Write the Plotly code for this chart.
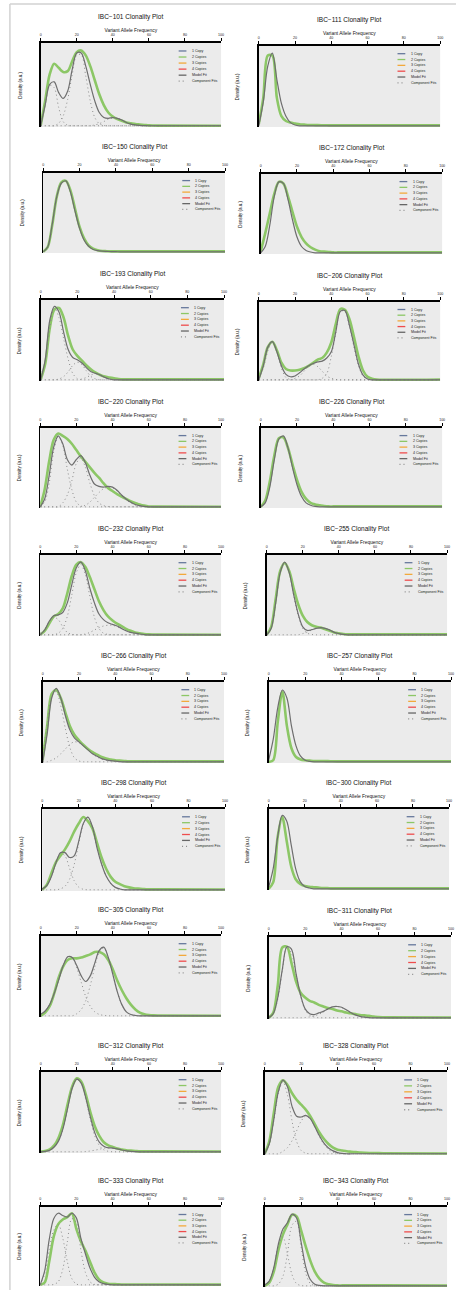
import plotly.graph_objects as go

W, H = 459, 1290

# Variant allele frequency grid (%) shared by every panel
VAF = [0, 2.5, 5, 7.5, 10, 12.5, 15, 17.5, 20, 22.5, 25, 27.5, 30, 32.5, 35,
       37.5, 40, 42.5, 45, 47.5, 50, 52.5, 55, 57.5, 60, 62.5, 65, 100]
VAF_TICKS = [0, 20, 40, 60, 80, 100]
LEGEND_LABELS = ["1 Copy", "2 Copies", "3 Copies", "4 Copies", "Model Fit", "Component Fits"]

# Density values (percent of panel height)
ibc101_two_copies = [0, 30, 62, 75, 70, 65, 66, 78, 89, 91, 85, 72, 55, 38, 25, 16, 11, 8, 6, 4, 3, 2, 1.5, 1, 0.5, 0.3, 0.2, 0]
ibc101_model_fit = [0, 25, 50, 53, 40, 33, 42, 68, 88, 88, 72, 50, 30, 16, 10, 9, 10, 9, 7, 4, 2, 1, 0.5, 0.2, 0, 0, 0, 0]
ibc101_comp1 = [3, 26, 49, 46, 22, 5, 0.5, 0, 0, 0, 0, 0, 0, 0, 0, 0, 0, 0, 0, 0, 0, 0, 0, 0, 0, 0, 0, 0]
ibc101_comp2 = [0, 0, 0, 0, 3, 12, 32, 62, 85, 86, 60, 30, 10, 2.5, 0.4, 0, 0, 0, 0, 0, 0, 0, 0, 0, 0, 0, 0, 0]
ibc101_comp3 = [0, 0, 0, 0, 0, 0, 0, 0, 0, 0, 0, 0, 1, 2.5, 5, 8, 9, 9, 7, 4, 2, 1, 0.3, 0, 0, 0, 0, 0]

ibc111_two_copies = [2, 35, 88, 88, 35, 12, 6, 4, 3, 2, 1.5, 1, 1, 0.8, 0.7, 0.6, 0.5, 0.5, 0.5, 0.5, 0.5, 0.5, 0.5, 0.5, 0.5, 0.5, 0.5, 0.5]
ibc111_model_fit = [0, 30, 75, 91, 58, 28, 12, 4, 1, 0, 0, 0, 0, 0, 0, 0, 0, 0, 0, 0, 0, 0, 0, 0, 0, 0, 0, 0]

ibc150_two_copies = [0, 6, 34, 70, 88, 90, 78, 55, 32, 17, 8, 4, 2, 1, 0.8, 0.6, 0.5, 0.5, 0.5, 0.5, 0.5, 0.5, 0.5, 0.5, 0.5, 0.5, 0.5, 0.5]
ibc150_model_fit = [0, 6, 35, 70, 87, 90, 76, 52, 30, 15, 7, 3, 1.5, 0.8, 0.5, 0.3, 0.2, 0, 0, 0, 0, 0, 0, 0, 0, 0, 0, 0]

ibc172_two_copies = [2, 25, 50, 75, 90, 88, 72, 52, 33, 20, 12, 7, 4, 2, 1.5, 1, 0.5, 0.5, 0.5, 0.5, 0.5, 0.5, 0.5, 0.5, 0.5, 0.5, 0.5, 0.5]
ibc172_model_fit = [0, 8, 35, 72, 90, 88, 68, 42, 20, 8, 3, 1, 0, 0, 0, 0, 0, 0, 0, 0, 0, 0, 0, 0, 0, 0, 0, 0]

ibc193_two_copies = [0, 20, 65, 88, 90, 78, 55, 38, 30, 24, 18, 13, 9, 6, 4, 3, 2, 1, 0.5, 0.5, 0.5, 0.5, 0.5, 0.5, 0.5, 0.5, 0.5, 0.5]
ibc193_model_fit = [0, 25, 75, 92, 85, 60, 38, 28, 25, 21, 15, 10, 8, 6, 3, 1, 0, 0, 0, 0, 0, 0, 0, 0, 0, 0, 0, 0]
ibc193_comp1 = [5, 24, 65, 90, 78, 52, 26, 8, 1.5, 0, 0, 0, 0, 0, 0, 0, 0, 0, 0, 0, 0, 0, 0, 0, 0, 0, 0, 0]
ibc193_comp2 = [0, 0, 0, 0, 1, 4, 10, 18, 22, 19, 11, 4, 1, 0, 0, 0, 0, 0, 0, 0, 0, 0, 0, 0, 0, 0, 0, 0]
ibc193_comp3 = [0, 0, 0, 0, 0, 0, 0, 0, 0, 1, 3, 6, 8, 6, 3, 1, 0, 0, 0, 0, 0, 0, 0, 0, 0, 0, 0, 0]

ibc206_two_copies = [2, 20, 42, 49, 38, 22, 14, 12, 12, 13, 15, 18, 22, 26, 28, 35, 48, 72, 91, 90, 78, 55, 30, 12, 4, 1.5, 0.5, 0.5]
ibc206_model_fit = [0, 18, 42, 49, 36, 18, 7, 4, 5, 9, 14, 18, 21, 23, 24, 28, 36, 62, 88, 89, 70, 45, 20, 6, 1, 0, 0, 0]
ibc206_comp1 = [3, 15, 37, 49, 36, 15, 3, 0.4, 0, 0, 0, 0, 0, 0, 0, 0, 0, 0, 0, 0, 0, 0, 0, 0, 0, 0, 0, 0]
ibc206_comp2 = [0, 0, 0, 0, 0, 0, 0, 0, 2, 5, 11, 17, 20, 17, 11, 5, 2, 0.5, 0, 0, 0, 0, 0, 0, 0, 0, 0, 0]
ibc206_comp3 = [0, 0, 0, 0, 0, 0, 0, 0, 0, 0, 0, 0, 0, 0, 2, 8, 30, 60, 88, 88, 68, 42, 18, 5, 1, 0, 0, 0]

ibc220_two_copies = [0, 22, 58, 85, 93, 90, 86, 80, 72, 64, 57, 50, 43, 37, 30, 24, 20, 16, 13, 10, 7, 5, 3, 1.5, 0.5, 0.3, 0.2, 0]
ibc220_model_fit = [0, 10, 40, 76, 90, 80, 60, 53, 60, 65, 56, 40, 29, 26, 25, 26, 25, 21, 15, 10, 6, 3, 1.5, 0.5, 0, 0, 0, 0]
ibc220_comp1 = [1, 6, 30, 70, 89, 78, 48, 22, 6, 1, 0, 0, 0, 0, 0, 0, 0, 0, 0, 0, 0, 0, 0, 0, 0, 0, 0, 0]
ibc220_comp2 = [0, 0, 0, 0, 0, 5, 15, 33, 55, 62, 50, 30, 14, 5, 1.5, 0.3, 0, 0, 0, 0, 0, 0, 0, 0, 0, 0, 0, 0]
ibc220_comp3 = [0, 0, 0, 0, 0, 0, 0, 0, 0, 0, 2, 6, 12, 18, 23, 25, 24, 20, 14, 9, 5, 2.5, 1, 0.3, 0, 0, 0, 0]

ibc226_two_copies = [0, 8, 32, 65, 87, 88, 75, 54, 34, 19, 10, 5, 3, 2, 1, 0.5, 0.5, 0.5, 0.5, 0.5, 0.5, 0.5, 0.5, 0.5, 0.5, 0.5, 0.5, 0.5]
ibc226_model_fit = [0, 5, 25, 60, 86, 90, 75, 50, 28, 13, 5, 2, 0.5, 0, 0, 0, 0, 0, 0, 0, 0, 0, 0, 0, 0, 0, 0, 0]

ibc232_two_copies = [0, 5, 14, 23, 26, 33, 52, 74, 88, 91, 85, 72, 57, 42, 31, 23, 18, 14, 11, 7.5, 5, 3, 2, 1, 0.5, 0.3, 0.2, 0]
ibc232_model_fit = [0, 6, 17, 24, 25, 28, 40, 63, 84, 91, 80, 58, 40, 26, 19, 15, 13, 11, 8, 5, 3, 2, 1, 0.3, 0, 0, 0, 0]
ibc232_comp1 = [2, 7, 16, 22, 19, 10, 3, 0.5, 0, 0, 0, 0, 0, 0, 0, 0, 0, 0, 0, 0, 0, 0, 0, 0, 0, 0, 0, 0]
ibc232_comp2 = [0, 0, 0, 0, 2, 8, 23, 50, 78, 88, 75, 48, 22, 8, 2, 0.4, 0, 0, 0, 0, 0, 0, 0, 0, 0, 0, 0, 0]
ibc232_comp3 = [0, 0, 0, 0, 0, 0, 0, 0, 0, 0, 1, 3, 6, 9, 11, 12, 12, 10, 7.5, 5, 3, 1.5, 0.7, 0.2, 0, 0, 0, 0]

ibc255_two_copies = [0, 10, 45, 80, 90, 80, 58, 38, 24, 16, 12, 10, 9, 7, 5, 3, 2, 1, 0.5, 0.5, 0.5, 0.5, 0.5, 0.5, 0.5, 0.5, 0.5, 0.5]
ibc255_model_fit = [0, 8, 40, 78, 91, 78, 50, 26, 10, 5.5, 6.4, 8, 9, 8, 6, 3, 1.5, 0.5, 0, 0, 0, 0, 0, 0, 0, 0, 0, 0]
ibc255_comp1 = [1, 8, 40, 78, 91, 78, 50, 24, 8, 2, 0.4, 0, 0, 0, 0, 0, 0, 0, 0, 0, 0, 0, 0, 0, 0, 0, 0, 0]
ibc255_comp2 = [0, 0, 0, 0, 0, 0, 0, 0, 1.5, 3.5, 6, 8, 9, 8, 6, 3, 1.5, 0.5, 0, 0, 0, 0, 0, 0, 0, 0, 0, 0]

ibc257_two_copies = [0, 2, 50, 88, 45, 17, 6, 3, 2, 1.5, 1, 1, 1, 0.8, 0.6, 0.5, 0.5, 0.5, 0.5, 0.5, 0.5, 0.5, 0.5, 0.5, 0.5, 0.5, 0.5, 0.5]
ibc257_model_fit = [2, 28, 68, 90, 80, 45, 20, 7, 2, 0.5, 0, 0, 0, 0, 0, 0, 0, 0, 0, 0, 0, 0, 0, 0, 0, 0, 0, 0]

ibc266_two_copies = [2, 45, 85, 90, 80, 62, 45, 34, 27, 21, 16, 12, 9, 6, 4, 3, 2, 1.5, 1, 0.5, 0.5, 0.5, 0.5, 0.5, 0.5, 0.5, 0.5, 0.5]
ibc266_model_fit = [0, 35, 80, 92, 80, 58, 40, 30, 25, 20, 15, 10, 7, 4, 2.5, 1.5, 0.8, 0.3, 0, 0, 0, 0, 0, 0, 0, 0, 0, 0]
ibc266_comp1 = [5, 48, 82, 88, 70, 42, 18, 5, 1, 0, 0, 0, 0, 0, 0, 0, 0, 0, 0, 0, 0, 0, 0, 0, 0, 0, 0, 0]
ibc266_comp2 = [0, 0, 2, 5, 10, 16, 22, 25, 24, 20, 15, 10, 6, 3.5, 2, 1, 0.5, 0, 0, 0, 0, 0, 0, 0, 0, 0, 0, 0]

ibc298_two_copies = [0, 6, 20, 34, 42, 50, 60, 72, 82, 90, 85, 76, 58, 40, 26, 16, 10, 7, 4.5, 3, 2, 1.5, 1, 0.5, 0.5, 0.5, 0.5, 0.3]
ibc298_model_fit = [1, 5, 16, 33, 46, 46, 40, 42, 60, 82, 90, 78, 52, 32, 17, 8, 3, 1, 0, 0, 0, 0, 0, 0, 0, 0, 0, 0]
ibc298_comp1 = [1.2, 5.3, 16, 33, 45, 42, 26.5, 11.3, 3.3, 0.6, 0, 0, 0, 0, 0, 0, 0, 0, 0, 0, 0, 0, 0, 0, 0, 0, 0, 0]
ibc298_comp2 = [0, 0, 0, 0, 1.1, 4.4, 13, 31, 57, 81, 90, 78, 52, 32, 17, 8, 3, 1, 0, 0, 0, 0, 0, 0, 0, 0, 0, 0]

ibc300_two_copies = [0, 8, 65, 90, 60, 28, 12, 6, 3.5, 2.5, 2, 1.5, 1, 1, 0.5, 0.5, 0.5, 0.5, 0.5, 0.5, 0.5, 0.5, 0.5, 0.5, 0.5, 0.5, 0.5, 0.5]
ibc300_model_fit = [2, 25, 65, 92, 85, 55, 25, 9, 3, 1, 0, 0, 0, 0, 0, 0, 0, 0, 0, 0, 0, 0, 0, 0, 0, 0, 0, 0]

ibc305_two_copies = [0, 4, 12, 28, 48, 62, 70, 72, 72, 73, 75, 77, 80, 80, 77, 70, 58, 44, 32, 22, 14, 8, 4, 2, 1, 0.5, 0.3, 0]
ibc305_model_fit = [2, 6, 14, 28, 45, 63, 74, 73, 63, 50, 43, 50, 66, 82, 86, 73, 52, 30, 14, 5, 1.6, 0.4, 0, 0, 0, 0, 0, 0]
ibc305_comp1 = [2, 6, 14, 28, 45, 63, 74, 73, 60, 42, 24, 12, 5, 1.7, 0.5, 0, 0, 0, 0, 0, 0, 0, 0, 0, 0, 0, 0, 0]
ibc305_comp2 = [0, 0, 0, 0, 0, 0, 0, 0, 2.6, 7.9, 19, 38, 61, 80, 85, 73, 52, 30, 14, 5, 1.6, 0.4, 0, 0, 0, 0, 0, 0]

ibc311_two_copies = [0, 6, 40, 87, 88, 68, 45, 31, 25, 21, 19, 16, 14, 12, 11, 9, 8, 6.5, 5.5, 4.5, 3.5, 3, 2.5, 1.5, 1, 0.7, 0.5, 0.3]
ibc311_model_fit = [0, 5, 25, 60, 88, 85, 55, 28, 11, 5, 4, 6, 8, 11, 13.5, 14, 13, 10, 6.5, 3.6, 1.8, 0.8, 0.3, 0, 0, 0, 0, 0]
ibc311_comp1 = [1, 5, 23, 58, 88, 80, 54, 27, 10, 3, 0.8, 0, 0, 0, 0, 0, 0, 0, 0, 0, 0, 0, 0, 0, 0, 0, 0, 0]
ibc311_comp2 = [0, 0, 0, 0, 0, 0, 0, 0, 0.3, 1, 2.2, 4.3, 7, 10.8, 13.5, 14, 12.7, 9.8, 6.5, 3.6, 1.8, 0.8, 0.3, 0, 0, 0, 0, 0]

ibc312_two_copies = [0, 1, 3, 8, 18, 35, 60, 82, 92, 88, 72, 50, 32, 20, 12, 8, 6, 4, 3, 2, 1.5, 1, 0.5, 0.5, 0.5, 0.5, 0.5, 0.3]
ibc312_model_fit = [0, 0.5, 2, 6, 14, 30, 55, 80, 91, 86, 68, 44, 24, 12, 7, 5, 4.7, 3.6, 2.3, 1.2, 0.5, 0.2, 0, 0, 0, 0, 0, 0]
ibc312_comp1 = [0, 0, 2, 6, 14, 30, 55, 80, 91, 85, 66, 41, 20, 8, 2.5, 0.6, 0, 0, 0, 0, 0, 0, 0, 0, 0, 0, 0, 0]
ibc312_comp2 = [0, 0, 0, 0, 0, 0, 0, 0, 0, 0, 0.3, 1, 2, 3.2, 4.5, 5, 4.7, 3.6, 2.3, 1.2, 0.5, 0.2, 0, 0, 0, 0, 0, 0]

ibc328_two_copies = [0, 15, 50, 82, 90, 84, 74, 66, 60, 54, 46, 36, 26, 18, 12, 7.5, 5, 4, 3, 2.5, 2, 1.5, 1.2, 1, 1, 0.8, 0.7, 0.3]
ibc328_model_fit = [0, 12, 42, 76, 90, 82, 58, 46, 45, 47, 43, 33, 22, 13, 7, 3.5, 1.5, 0.5, 0, 0, 0, 0, 0, 0, 0, 0, 0, 0]
ibc328_comp1 = [2, 12, 40, 74, 88, 72, 40, 15, 4, 0.7, 0, 0, 0, 0, 0, 0, 0, 0, 0, 0, 0, 0, 0, 0, 0, 0, 0, 0]
ibc328_comp2 = [0, 0, 0, 0, 3, 7.5, 16, 28, 40, 46, 43, 33, 21, 11.6, 5.3, 2, 0.7, 0.2, 0, 0, 0, 0, 0, 0, 0, 0, 0, 0]

ibc333_two_copies = [0, 3, 30, 62, 78, 84, 87, 92, 72, 56, 44, 30, 16, 7, 3, 1.5, 1, 0.8, 0.5, 0.5, 0.5, 0.5, 0.5, 0.5, 0.5, 0.5, 0.5, 0.3]
ibc333_model_fit = [0, 18, 58, 85, 92, 89, 87, 92, 86, 60, 40, 22, 10, 4, 1.5, 0.5, 0, 0, 0, 0, 0, 0, 0, 0, 0, 0, 0, 0]
ibc333_comp1 = [0.6, 14, 45, 70, 78, 60, 30, 8, 1, 0, 0, 0, 0, 0, 0, 0, 0, 0, 0, 0, 0, 0, 0, 0, 0, 0, 0, 0]
ibc333_comp2 = [0, 0, 0, 0.5, 4, 20, 55, 85, 80, 45, 16, 4, 0.6, 0, 0, 0, 0, 0, 0, 0, 0, 0, 0, 0, 0, 0, 0, 0]

ibc343_two_copies = [0, 4, 18, 45, 65, 78, 90, 88, 70, 50, 32, 18, 9, 4, 2, 1, 0.5, 0.5, 0.5, 0.5, 0.5, 0.5, 0.5, 0.5, 0.5, 0.5, 0.5, 0.3]
ibc343_model_fit = [1, 6, 23, 53, 72, 80, 91, 86, 55, 24, 8, 2, 0.5, 0, 0, 0, 0, 0, 0, 0, 0, 0, 0, 0, 0, 0, 0, 0]
ibc343_comp1 = [0.8, 6, 23, 51, 62, 40, 14, 2.7, 0.3, 0, 0, 0, 0, 0, 0, 0, 0, 0, 0, 0, 0, 0, 0, 0, 0, 0, 0, 0]
ibc343_comp2 = [0, 0, 0, 2.2, 12, 41, 77, 82, 49, 16, 3, 0.3, 0, 0, 0, 0, 0, 0, 0, 0, 0, 0, 0, 0, 0, 0, 0, 0]

# Panels in reading order (left, right per row)
PANELS = [
    ("IBC−101", ibc101_two_copies, ibc101_model_fit, [ibc101_comp1, ibc101_comp2, ibc101_comp3]),
    ("IBC−111", ibc111_two_copies, ibc111_model_fit, []),
    ("IBC−150", ibc150_two_copies, ibc150_model_fit, []),
    ("IBC−172", ibc172_two_copies, ibc172_model_fit, []),
    ("IBC−193", ibc193_two_copies, ibc193_model_fit, [ibc193_comp1, ibc193_comp2, ibc193_comp3]),
    ("IBC−206", ibc206_two_copies, ibc206_model_fit, [ibc206_comp1, ibc206_comp2, ibc206_comp3]),
    ("IBC−220", ibc220_two_copies, ibc220_model_fit, [ibc220_comp1, ibc220_comp2, ibc220_comp3]),
    ("IBC−226", ibc226_two_copies, ibc226_model_fit, []),
    ("IBC−232", ibc232_two_copies, ibc232_model_fit, [ibc232_comp1, ibc232_comp2, ibc232_comp3]),
    ("IBC−255", ibc255_two_copies, ibc255_model_fit, [ibc255_comp1, ibc255_comp2]),
    ("IBC−266", ibc266_two_copies, ibc266_model_fit, [ibc266_comp1, ibc266_comp2]),
    ("IBC−257", ibc257_two_copies, ibc257_model_fit, []),
    ("IBC−298", ibc298_two_copies, ibc298_model_fit, [ibc298_comp1, ibc298_comp2]),
    ("IBC−300", ibc300_two_copies, ibc300_model_fit, []),
    ("IBC−305", ibc305_two_copies, ibc305_model_fit, [ibc305_comp1, ibc305_comp2]),
    ("IBC−311", ibc311_two_copies, ibc311_model_fit, [ibc311_comp1, ibc311_comp2]),
    ("IBC−312", ibc312_two_copies, ibc312_model_fit, [ibc312_comp1, ibc312_comp2]),
    ("IBC−328", ibc328_two_copies, ibc328_model_fit, [ibc328_comp1, ibc328_comp2]),
    ("IBC−333", ibc333_two_copies, ibc333_model_fit, [ibc333_comp1, ibc333_comp2]),
    ("IBC−343", ibc343_two_copies, ibc343_model_fit, [ibc343_comp1, ibc343_comp2]),
]

# Layout: plot-area boxes in page pixels (left, right, top, bottom)
BOXES = [
    (40, 222, 43, 127), (260, 443, 46, 127),
    (42.5, 226, 173, 253), (262, 445, 174, 254),
    (40, 225, 300, 381), (260, 443, 302, 381),
    (39.5, 222, 428, 508), (262, 445, 428, 508),
    (39.5, 222, 555, 636), (268, 450, 555, 636),
    (42, 225, 682, 763), (270, 454, 682, 763),
    (41.5, 226, 809, 891), (270, 452, 809, 890),
    (40, 222, 936, 1017), (270, 454, 937, 1019),
    (40, 222, 1072, 1153), (266, 450, 1072, 1155),
    (39.5, 222, 1207, 1286), (266, 450, 1207, 1287),
]

GREEN = "#8cc766"
MODEL = "#6e6e6e"
COMP = "#8c8c8c"
LEG_COLORS = ["#66789c", GREEN, "#f2a93b", "#ee4d4d", "#666666", "#8c8c8c"]
FONT = "Liberation Sans, Arial, sans-serif"

fig = go.Figure()
annotations = []
shapes = []

for i, ((name, green, model, comps), (L, R, T, B)) in enumerate(zip(PANELS, BOXES), start=1):
    for arr in [green, model] + comps:
        assert len(arr) == len(VAF), (name, len(arr))
    xa = "x" if i == 1 else f"x{i}"
    ya = "y" if i == 1 else f"y{i}"
    fig.add_trace(go.Scatter(x=VAF, y=green, xaxis=xa, yaxis=ya, mode="lines",
                             line=dict(color=GREEN, width=2.6, shape="spline", smoothing=0.9),
                             showlegend=False, hoverinfo="skip"))
    for comp in comps:
        fig.add_trace(go.Scatter(x=VAF, y=comp, xaxis=xa, yaxis=ya, mode="lines",
                                 line=dict(color=COMP, width=1, dash="1px,3px", shape="spline", smoothing=0.9),
                                 showlegend=False, hoverinfo="skip"))
    fig.add_trace(go.Scatter(x=VAF, y=model, xaxis=xa, yaxis=ya, mode="lines",
                             line=dict(color=MODEL, width=1.2, shape="spline", smoothing=0.9),
                             showlegend=False, hoverinfo="skip"))

    xkey = "xaxis" if i == 1 else f"xaxis{i}"
    ykey = "yaxis" if i == 1 else f"yaxis{i}"
    fig.layout[xkey] = dict(
        domain=[L / W, R / W], anchor=ya, side="top", range=[0, 100],
        tickvals=VAF_TICKS, ticks="outside", ticklen=3.5, tickwidth=1, tickcolor="black",
        tickfont=dict(size=3.6, color="#222", family=FONT),
        showline=True, linecolor="black", linewidth=1.6, showgrid=False, zeroline=False,
        title=dict(text="Variant Allele Frequency", font=dict(size=4.9, color="#111", family=FONT), standoff=1),
        fixedrange=True,
    )
    fig.layout[ykey] = dict(
        domain=[1 - B / H, 1 - T / H], anchor=xa, range=[-1.5, 100],
        showline=True, linecolor="black", linewidth=1.6, showticklabels=False, ticks="",
        showgrid=False, zeroline=False, fixedrange=True,
    )

    annotations.append(dict(text=f"{name} Clonality Plot", xref=f"{xa} domain", yref=f"{ya} domain",
                            x=0.5, y=1, yshift=26, showarrow=False, xanchor="center", yanchor="middle",
                            font=dict(size=6.5, color="#111", family=FONT)))
    annotations.append(dict(text="Density (a.u.)", xref=f"{xa} domain", yref=f"{ya} domain",
                            x=0, y=0.5, xshift=-21, textangle=-90, showarrow=False,
                            xanchor="center", yanchor="middle",
                            font=dict(size=4.5, color="#111", family=FONT)))
    for k, (lab, col) in enumerate(zip(LEGEND_LABELS, LEG_COLORS)):
        yy = 0.905 - k * 0.072
        shapes.append(dict(type="line", xref=f"{xa} domain", yref=f"{ya} domain",
                           x0=0.765, x1=0.808, y0=yy, y1=yy,
                           line=dict(color=col, width=1.3, dash="1px,3px" if k == 5 else "solid")))
        annotations.append(dict(text=lab, xref=f"{xa} domain", yref=f"{ya} domain",
                                x=0.826, y=yy, showarrow=False, xanchor="left", yanchor="middle",
                                font=dict(size=3.6, color="#222", family=FONT)))

# page frame lines
shapes.append(dict(type="line", xref="paper", yref="paper", x0=9 / W, x1=9 / W, y0=0, y1=1 - 4 / H,
                   line=dict(color="#d2d2d2", width=1.5)))
shapes.append(dict(type="line", xref="paper", yref="paper", x0=9 / W, x1=1, y0=1 - 4 / H, y1=1 - 4 / H,
                   line=dict(color="#d2d2d2", width=1.5)))

fig.update_layout(
    width=W, height=H, margin=dict(l=0, r=0, t=0, b=0),
    paper_bgcolor="white", plot_bgcolor="#ebebeb",
    annotations=annotations, shapes=shapes, showlegend=False,
    font=dict(family=FONT),
)

fig.write_html("out.html",
               config={"displayModeBar": False, "staticPlot": True},
               post_script="document.body.style.margin='0';document.body.style.overflow='hidden';")
